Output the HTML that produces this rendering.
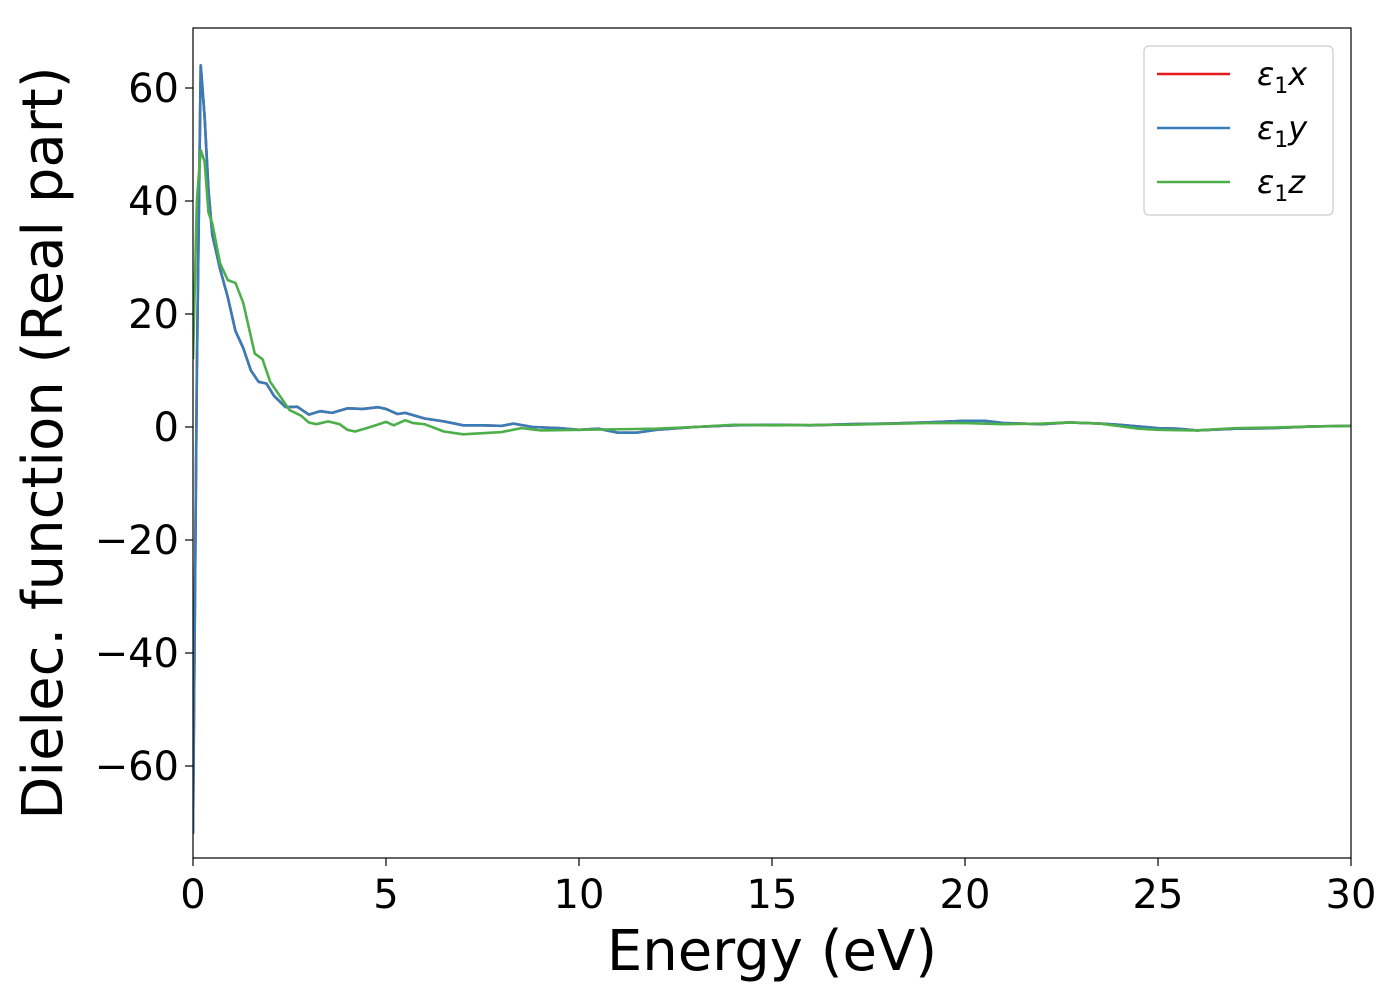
<!DOCTYPE html>
<html><head><meta charset="utf-8"><style>
body{margin:0;background:#fff;font-family:"DejaVu Sans","Liberation Sans",sans-serif;}
</style></head><body>
<svg id="chart" width="1400" height="1000" xmlns="http://www.w3.org/2000/svg">
<g id="plot"></g>
</svg>
<script>
const blueX=[0,0.1,0.2,0.3,0.4,0.5,0.7,0.9,1.1,1.3,1.5,1.7,1.9,2.1,2.4,2.7,3.0,3.3,3.6,4.0,4.4,4.8,5.0,5.3,5.5,6,6.5,7,7.5,8,8.3,8.8,9.5,10,10.5,11,11.5,12,13,14,15,16,17,18,19,20,20.5,21,22,22.7,23.5,24,25,25.5,26,27,28,29,30];
const blueY=[-72,10,64,55,42,34,28,23,17,14,10,8,7.7,5.5,3.5,3.6,2.2,2.8,2.5,3.3,3.2,3.5,3.2,2.3,2.5,1.5,1.0,0.3,0.3,0.2,0.6,0,-0.2,-0.5,-0.3,-1,-1,-0.5,0,0.3,0.4,0.3,0.5,0.6,0.8,1.1,1.1,0.7,0.5,0.8,0.6,0.4,-0.2,-0.3,-0.6,-0.3,-0.2,0.1,0.2];
const greenX=[0,0.1,0.2,0.3,0.4,0.5,0.7,0.9,1.1,1.3,1.5,1.6,1.8,2.0,2.3,2.5,2.8,3.0,3.2,3.5,3.8,4.0,4.2,4.5,5.0,5.2,5.5,5.7,6,6.5,7,7.5,8,8.5,9,10,11,12,13,14,15,17,19,20,21,22,22.7,23.5,24.5,25,26,27,28,29,30];
const greenY=[12,40,49,47,38,36,29,26,25.5,22,16,13,12,8,5,3,2,0.8,0.5,1,0.5,-0.5,-0.8,-0.2,0.9,0.3,1.2,0.7,0.5,-0.8,-1.3,-1.1,-0.9,-0.2,-0.6,-0.5,-0.4,-0.3,0,0.4,0.3,0.4,0.7,0.7,0.5,0.6,0.8,0.6,-0.3,-0.5,-0.6,-0.2,-0.1,0.1,0.2];
const xTicks=[0,5,10,15,20,25,30];
const yTicks=[-60,-40,-20,0,20,40,60];
const L=193,R=1351,T=28,B=858;
const xs=v=>L+(v-0)/30*(R-L);
const ys=v=>427-v*(427-88)/60;
const NS="http://www.w3.org/2000/svg";
const g=document.getElementById('plot');
function mk(t,a,p){const e=document.createElementNS(NS,t);for(const k in a)e.setAttribute(k,a[k]);(p||g).appendChild(e);return e;}
const clip=mk('clipPath',{id:'cp'});mk('rect',{x:L,y:T,width:R-L,height:B-T},clip);
function line(X,Y,c,n){const p=mk('polyline',{points:X.map((x,i)=>xs(x)+','+ys(Y[i])).join(' '),fill:'none',stroke:c,'stroke-width':2.6,'stroke-linejoin':'round','clip-path':'url(#cp)'});}
line(blueX,blueY,'#e41a1c','series-eps1x');
line(blueX,blueY,'#377eb8','series-eps1y');
line(greenX,greenY,'#4daf4a','series-eps1z');
const fr=mk('rect',{x:L,y:T,width:R-L,height:B-T,fill:'none',stroke:'#000','stroke-width':1.2});

xTicks.forEach(v=>{const x=xs(v);mk('line',{x1:x,x2:x,y1:B,y2:B+8,stroke:'#000','stroke-width':1.2});
const t=mk('text',{x:x,y:B+50,'text-anchor':'middle','font-size':40});t.textContent=v;
});
yTicks.forEach(v=>{const y=ys(v);mk('line',{x1:L-8,x2:L,y1:y,y2:y,stroke:'#000','stroke-width':1.2});
const t=mk('text',{x:L-14,y:y+14,'text-anchor':'end','font-size':40});t.textContent=v<0?'\u2212'+(-v):v;
});
const xl=mk('text',{x:(L+R)/2,y:970,'text-anchor':'middle','font-size':56});xl.textContent='Energy (eV)';

const yl=mk('text',{x:0,y:0,'text-anchor':'middle','font-size':56,transform:'translate(62,443) rotate(-90)'});yl.textContent='Dielec. function (Real part)';

const lg=mk('g',{});
mk('rect',{x:1144,y:46,width:189,height:169,rx:5,fill:'#fff',stroke:'#ccc','stroke-width':1.2},lg);
[['x','#e41a1c',74],['y','#377eb8',128],['z','#4daf4a',182]].forEach(([s,c,y])=>{
mk('line',{x1:1157,x2:1230,y1:y,y2:y,stroke:c,'stroke-width':2.6},lg);
const t=mk('text',{x:1257,y:y+11,'font-size':32,'font-style':'italic'},lg);

t.innerHTML='ε<tspan font-style="normal" font-size="22" dy="8">1</tspan><tspan dy="-8">'+s+'</tspan>';});
</script>
</body></html>
